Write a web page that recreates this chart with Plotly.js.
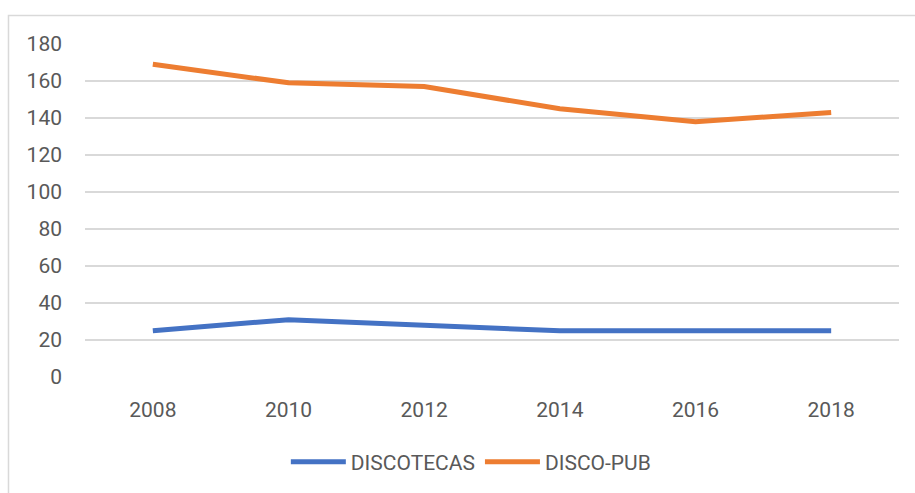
<!DOCTYPE html>
<html>
<head>
<meta charset="utf-8">
<script src="https://cdn.plot.ly/plotly-3.0.1.min.js"></script>
<style>html,body{margin:0;padding:0;background:#fff;}#chart{width:915px;height:493px;}</style>
</head>
<body>
<div id="chart"></div>
<script>
const years = ['2008', '2010', '2012', '2014', '2016', '2018'];
const discotecas = [25, 31, 28, 25, 25, 25];
const discoPub = [169, 159, 157, 145, 138, 143];
const yTicks = [0, 20, 40, 60, 80, 100, 120, 140, 160, 180];

const traces = [
  {x: years, y: discotecas, name: 'DISCOTECAS', type: 'scatter', mode: 'lines',
   line: {color: '#4472C4', width: 5}},
  {x: years, y: discoPub, name: 'DISCO-PUB', type: 'scatter', mode: 'lines',
   line: {color: '#ED7D31', width: 5}}
];

const font = {family: 'Roboto, "Liberation Sans", sans-serif', size: 21, color: '#595959'};

const layout = {
  width: 915, height: 493,
  margin: {l: 85, r: 16, t: 44, b: 115},
  paper_bgcolor: '#fff', plot_bgcolor: '#fff',
  font: font,
  showlegend: true,
  legend: {orientation: 'h', x: 0.474, xanchor: 'center', y: -0.252, yanchor: 'middle',
           font: font, itemwidth: 55, tracegroupgap: 0},
  xaxis: {type: 'category', range: [-0.5, 5.5], showgrid: false, zeroline: false, showline: false,
          ticks: '', tickfont: font, ticklabelstandoff: 18, fixedrange: true},
  yaxis: {range: [0, 180], tickvals: yTicks, showgrid: true, gridcolor: '#D9D9D9', gridwidth: 1.5,
          zeroline: false, showline: false, ticks: '', tickfont: font, ticklabelstandoff: 22,
          fixedrange: true},
  shapes: [
    {type: 'rect', xref: 'paper', yref: 'paper', x0: -0.094, x1: 1.2, y0: -0.6, y1: 1.0856,
     line: {color: '#D9D9D9', width: 1.5}, fillcolor: 'rgba(0,0,0,0)', layer: 'below'}
  ]
};

Plotly.newPlot('chart', traces, layout, {displayModeBar: false, staticPlot: true});
</script>
</body>
</html>
